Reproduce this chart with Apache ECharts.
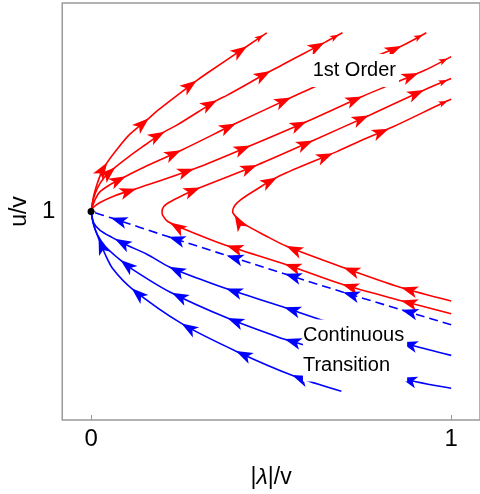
<!DOCTYPE html>
<html>
<head>
<meta charset="utf-8">
<script src="https://cdn.jsdelivr.net/npm/echarts@6/dist/echarts.min.js"></script>
<style>
  html, body { margin: 0; padding: 0; background: #fff; }
  #flow { width: 480px; height: 494px; }
</style>
</head>
<body>
<div id="flow"></div>
<script>
  // flow lines, points in flow direction: [|lambda|/v, u/v]
  const red1 = [[0, 1], [0.003, 1.033], [0.008, 1.081], [0.025, 1.171], [0.044, 1.233], [0.075, 1.305], [0.108, 1.371], [0.158, 1.443], [0.186, 1.486], [0.294, 1.629], [0.321, 1.662], [0.435, 1.795], [0.488, 1.857]]
  const red2 = [[0, 1], [0.006, 1.057], [0.017, 1.110], [0.036, 1.162], [0.072, 1.219], [0.108, 1.267], [0.150, 1.319], [0.197, 1.376], [0.238, 1.414], [0.349, 1.533], [0.377, 1.557], [0.501, 1.676], [0.648, 1.810], [0.698, 1.857]]
  const red3 = [[0, 1], [0.011, 1.057], [0.025, 1.095], [0.053, 1.129], [0.089, 1.162], [0.155, 1.219], [0.252, 1.295], [0.404, 1.424], [0.551, 1.543], [0.640, 1.614], [0.789, 1.743], [0.864, 1.795], [0.931, 1.857]]
  const red4 = [[0, 1], [0.006, 1.019], [0.025, 1.043], [0.066, 1.076], [0.127, 1.110], [0.294, 1.210], [0.440, 1.314], [0.601, 1.433], [0.753, 1.552], [0.925, 1.676], [1.0, 1.743]]
  const red5 = [[1.0, 0.51], [0.864, 0.571], [0.695, 0.652], [0.537, 0.748], [0.366, 0.843], [0.247, 0.924], [0.213, 0.952], [0.199, 0.981], [0.197, 1.0], [0.202, 1.024], [0.216, 1.043], [0.247, 1.071], [0.296, 1.110], [0.463, 1.224], [0.620, 1.343], [0.773, 1.462], [0.934, 1.590], [1.0, 1.638]]
  const red6 = [[1.0, 0.571], [0.856, 0.638], [0.704, 0.729], [0.543, 0.833], [0.482, 0.886], [0.427, 0.938], [0.404, 0.971], [0.393, 1.0], [0.399, 1.029], [0.416, 1.057], [0.449, 1.095], [0.524, 1.171], [0.681, 1.286], [0.753, 1.343], [0.837, 1.405], [0.975, 1.519], [1.0, 1.538]]
  const blueDashed = [[1.0, 0.457], [0.698, 0.614], [0.366, 0.795], [0.211, 0.881], [0.053, 0.971], [0, 1]]
  const blue2 = [[1.0, 0.310], [0.892, 0.357], [0.648, 0.476], [0.532, 0.543], [0.377, 0.629], [0.302, 0.676], [0.219, 0.733], [0.155, 0.795], [0.094, 0.843], [0.058, 0.876], [0.025, 0.910], [0.008, 0.943], [0, 1]]
  const blue3 = [[1.0, 0.152], [0.864, 0.2], [0.587, 0.362], [0.524, 0.395], [0.377, 0.490], [0.219, 0.614], [0.114, 0.724], [0.075, 0.776], [0.039, 0.833], [0.017, 0.890], [0.006, 0.943], [0, 1]]
  const blue4 = [[0.695, 0.138], [0.565, 0.210], [0.404, 0.329], [0.252, 0.462], [0.114, 0.629], [0.061, 0.724], [0.039, 0.795], [0.022, 0.867], [0.008, 0.933], [0, 1]]

  const fixedPoint = [[0, 1]]
  const xTicks = [0, 1]
  const yTicks = [1]
  const firstOrderLabel = [[0.731, 1.676]]
  const continuousLabel = [[0.587, 0.333]]

  const RED = '#ff0000'
  const BLUE = '#0000ff'
  const FONT = 'Liberation Sans'
  const ARROW_START = 52
  const ARROW_STEP = 61

  const curves = [
    { data: red1, color: RED, endHead: true }, { data: red2, color: RED, endHead: true },
    { data: red3, color: RED, endHead: true }, { data: red4, color: RED, endHead: true },
    { data: red5, color: RED, endHead: true }, { data: red6, color: RED, endHead: true },
    { data: blueDashed, color: BLUE, dashed: true },
    { data: blue2, color: BLUE }, { data: blue3, color: BLUE }, { data: blue4, color: BLUE }
  ]

  let myChart = echarts.init(document.getElementById('flow'))

  function lineSeries (c) {
    return {
      type: 'line',
      data: c.data,
      showSymbol: false,
      smooth: 0.3,
      silent: true,
      z: 2,
      lineStyle: { color: c.color, width: 1.6, type: c.dashed ? [9, 5] : 'solid' }
    }
  }

  function labelSeries (data, text, position, padding) {
    return {
      type: 'scatter',
      data: data,
      symbolSize: 1,
      silent: true,
      z: 10,
      itemStyle: { color: '#fff', opacity: 1 },
      label: {
        show: true,
        position: position,
        distance: 0,
        formatter: text,
        fontFamily: FONT,
        fontSize: 20,
        lineHeight: 30,
        color: '#000',
        opacity: 1,
        backgroundColor: '#fff',
        padding: padding
      }
    }
  }

  const option = {
    animation: false,
    grid: { left: 62, top: 3, right: -1, bottom: 72, show: true, borderColor: '#999', borderWidth: 1.5 },
    xAxis: {
      type: 'value',
      min: -0.08,
      max: 1.08,
      axisLine: { show: false },
      splitLine: { show: false },
      axisTick: { show: true, inside: true, length: 5, customValues: xTicks, lineStyle: { color: '#999' } },
      axisLabel: { customValues: xTicks, fontFamily: FONT, fontSize: 24, color: '#000', margin: 7 },
      name: '|{i|λ}|/v',
      nameLocation: 'middle',
      nameGap: 46,
      nameTextStyle: {
        fontFamily: FONT, fontSize: 23, color: '#000',
        rich: { i: { fontFamily: FONT, fontSize: 23, fontStyle: 'italic', color: '#000' } }
      }
    },
    yAxis: {
      type: 'value',
      min: 0,
      max: 2,
      axisLine: { show: false },
      splitLine: { show: false },
      axisTick: { show: true, inside: true, length: 5, customValues: yTicks, lineStyle: { color: '#999' } },
      axisLabel: { customValues: yTicks, fontFamily: FONT, fontSize: 24, color: '#000', margin: 7 },
      name: 'u/v',
      nameLocation: 'middle',
      nameGap: 31,
      nameTextStyle: { fontFamily: FONT, fontSize: 23, color: '#000' }
    },
    series: curves.map(lineSeries)
  }
  myChart.setOption(option)

  // arrowheads spaced evenly (in screen length) along each flow line
  function arrowItems (c) {
    const px = c.data.map(p => myChart.convertToPixel({ gridIndex: 0 }, p))
    const cum = [0]
    for (let i = 1; i < px.length; i++) {
      cum.push(cum[i - 1] + Math.hypot(px[i][0] - px[i - 1][0], px[i][1] - px[i - 1][1]))
    }
    const total = cum[cum.length - 1]
    const at = function (s) {
      s = Math.max(0, Math.min(total, s))
      let i = 1
      while (i < px.length - 1 && cum[i] < s) i++
      const t = (s - cum[i - 1]) / ((cum[i] - cum[i - 1]) || 1)
      return [px[i - 1][0] + t * (px[i][0] - px[i - 1][0]), px[i - 1][1] + t * (px[i][1] - px[i - 1][1])]
    }
    const head = function (s, size) {
      const p = at(s)
      const a = at(s - 5)
      const b = at(s + 5)
      const ang = Math.atan2(-(b[1] - a[1]), b[0] - a[0]) * 180 / Math.PI - 90
      const item = { value: myChart.convertFromPixel({ gridIndex: 0 }, p), symbolRotate: ang }
      if (size) item.symbolSize = size
      return item
    }
    const items = []
    for (let s = ARROW_START; s < total - 8; s += ARROW_STEP) {
      items.push(head(s))
    }
    if (c.endHead) items.push(head(total - 4, [5, 9]))
    return items
  }

  const arrowSeries = curves.map(c => ({
    type: 'scatter',
    data: arrowItems(c),
    symbol: 'arrow',
    symbolSize: [9, 17],
    silent: true,
    z: 3,
    itemStyle: { color: c.color, opacity: 1 }
  }))

  myChart.setOption({
    series: curves.map(lineSeries).concat(arrowSeries).concat([
      labelSeries(firstOrderLabel, '1st Order', 'inside', [2, 3, 1, 3]),
      labelSeries(continuousLabel, 'Continuous\nTransition', 'right', [2, 3, 0, 0]),
      {
        type: 'scatter',
        data: fixedPoint,
        symbolSize: 7,
        silent: true,
        z: 12,
        itemStyle: { color: '#000', opacity: 1 }
      }
    ])
  })
</script>
</body>
</html>
